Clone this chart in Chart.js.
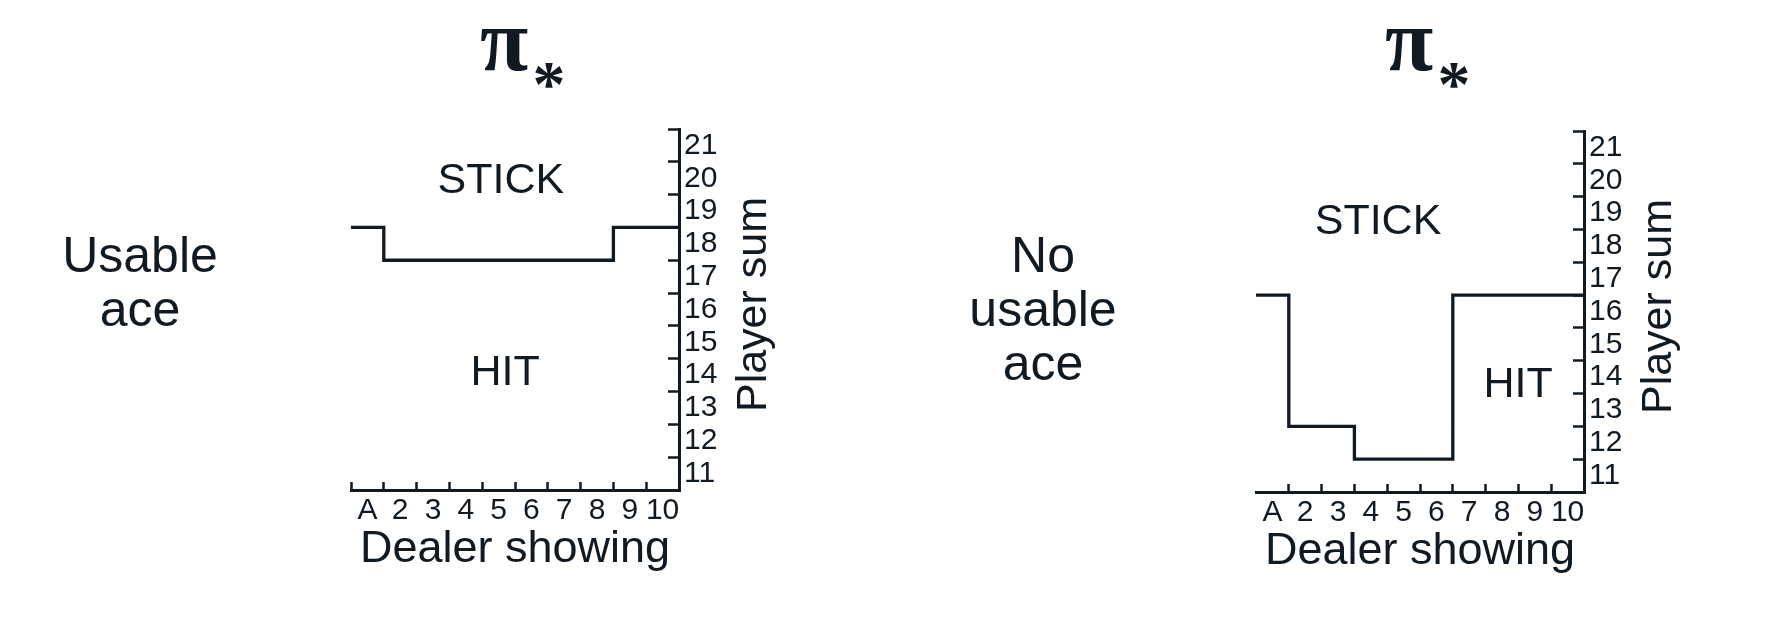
<!DOCTYPE html>
<html><head><meta charset="utf-8">
<script src="https://cdn.jsdelivr.net/npm/chart.js@4.4.1/dist/chart.umd.min.js"></script>
<style>
html,body{margin:0;padding:0;background:#fff;}
#wrap{position:relative;width:1774px;height:636px;overflow:hidden;background:#fff;}
canvas{position:absolute;top:0;}
.row{position:absolute;font-family:'Liberation Sans',Arial,sans-serif;font-size:50px;line-height:54px;color:#111a22;text-align:center;width:240px;}
</style></head><body>
<div id="wrap">
<div class="row" style="left:20px;top:228px">Usable<br>ace</div>
<div class="row" style="left:923px;top:228px">No<br>usable<br>ace</div>
<canvas id="c1" width="887" height="636" style="left:0"></canvas>
<canvas id="c2" width="887" height="636" style="left:887px"></canvas>
</div>
<script>
// ---- data ----
const dealerShowing = ['A','2','3','4','5','6','7','8','9','10'];
const playerSumLabels = ['11','12','13','14','15','16','17','18','19','20','21'];
// decision boundary (player sum between HIT below / STICK above) for each dealer card
const usableAceBoundary   = [18.5,17.5,17.5,17.5,17.5,17.5,17.5,17.5,18.5,18.5];
const noUsableAceBoundary = [16.5,12.5,12.5,11.5,11.5,11.5,16.5,16.5,16.5,16.5];
// tick marks sit on cell boundaries
const xTickValues = [0.5,1.5,2.5,3.5,4.5,5.5,6.5,7.5,8.5,9.5,10.5];
const yTickValues = [10.5,11.5,12.5,13.5,14.5,15.5,16.5,17.5,18.5,19.5,20.5,21.5];
const titleSymbol = 'π';
const titleSubscript = '*';
const xTitle = 'Dealer showing';
const yTitle = 'Player sum';
const usableRegions   = [{text:'STICK', x:5.07, y:19.9}, {text:'HIT', x:5.2, y:14.06}];
const noUsableRegions = [{text:'STICK', x:4.22, y:18.73}, {text:'HIT', x:8.49, y:13.76}];

const INK = '#111a22';
const SANS = "'Liberation Sans', Arial, sans-serif";
const SERIF = "'Liberation Serif', 'DejaVu Serif', serif";

function stepPoints(vals){
  const pts = vals.map((v,i)=>({x:xTickValues[i], y:v}));
  pts.push({x:xTickValues[vals.length], y:vals[vals.length-1]});
  return pts;
}

const regionLabels = {
  id:'regionLabels',
  afterDatasetsDraw(chart, args, opts){
    const {ctx, scales:{x,y}} = chart;
    ctx.save();
    ctx.fillStyle = INK;
    ctx.font = "43px " + SANS;
    ctx.textAlign = 'center';
    ctx.textBaseline = 'middle';
    (opts.items||[]).forEach(it=>{
      ctx.fillText(it.text, x.getPixelForValue(it.x), y.getPixelForValue(it.y));
    });
    ctx.restore();
  }
};
const sideTitle = {
  id:'sideTitle',
  afterDraw(chart, args, opts){
    const {ctx, chartArea:a} = chart;
    ctx.save();
    ctx.fillStyle = INK;
    ctx.font = "43px " + SANS;
    ctx.textAlign = 'center';
    ctx.textBaseline = 'alphabetic';
    ctx.translate(a.right + 87, (a.top + a.bottom)/2 - 5);
    ctx.rotate(-Math.PI/2);
    ctx.fillText(opts.text, 0, 0);
    ctx.restore();
  }
};
// subscript mark after the title symbol
const titleSub = {
  id:'titleSub',
  afterDraw(chart, args, opts){
    const {ctx, chartArea:a} = chart;
    ctx.save();
    ctx.fillStyle = INK;
    ctx.textAlign = 'left';
    ctx.textBaseline = 'alphabetic';
    ctx.font = "bold 100px " + SERIF;
    let m = ctx.measureText(opts.text);
    const size = 100 * opts.height / (m.actualBoundingBoxAscent + m.actualBoundingBoxDescent);
    ctx.font = "bold " + size.toFixed(1) + "px " + SERIF;
    m = ctx.measureText(opts.text);
    const w = m.actualBoundingBoxLeft + m.actualBoundingBoxRight;
    const cx = (a.left + a.right)/2 + opts.dx;
    const x = cx - w/2 + m.actualBoundingBoxLeft;
    const y = opts.cy + (m.actualBoundingBoxAscent - m.actualBoundingBoxDescent)/2;
    ctx.fillText(opts.text, x, y);
    ctx.restore();
  }
};

function makeChart(id, vals, regions, geo){
  const W = 887, H = 636, yAxisW = 100, xAxisH = 87;
  return new Chart(document.getElementById(id), {
    type:'line',
    data:{datasets:[{
      data: stepPoints(vals),
      stepped: true,
      borderColor: INK,
      borderWidth: 3.3,
      pointRadius: 0,
      fill: false,
      borderJoinStyle: 'miter',
      borderCapStyle: 'butt'
    }]},
    options:{
      responsive:false,
      animation:false,
      devicePixelRatio:1,
      layout:{padding:{left:geo.left, right:W-geo.right-yAxisW, top:0, bottom:H-geo.bottom-xAxisH}},
      plugins:{
        legend:{display:false},
        tooltip:{enabled:false},
        title:{
          display:true, text:titleSymbol + ' ', fullSize:false, color:INK,
          font:{family:SERIF, size:88, weight:'bold', lineHeight:0.8},
          padding:{top:12, bottom:geo.top-12-70.4}
        },
        titleSub:{text:titleSubscript, height:25, dx:34, cy:75},
        regionLabels:{items:regions},
        sideTitle:{text:yTitle}
      },
      scales:{
        x:{
          type:'linear', position:'bottom', min:0.5, max:10.5,
          afterBuildTicks: s => { s.ticks = xTickValues.map(v=>({value:v})); },
          afterFit: s => { s.height = xAxisH; },
          grid:{display:true, drawOnChartArea:false, drawTicks:true, tickLength:-8, tickWidth:2.5,
                tickColor: c => (geo.hideFirstX && c.index===0) ? 'rgba(0,0,0,0)' : INK},
          border:{display:true, color:INK, width:3},
          ticks:{autoSkip:false, maxRotation:0, color:INK, padding:11, labelOffset:16.4,
                 font:{family:SANS, size:30, lineHeight:1.2},
                 callback:(v,i)=> dealerShowing[i] ?? ''},
          title:{display:true, text:xTitle, color:INK, padding:0,
                 font:{family:SANS, size:45, lineHeight:1.2}}
        },
        y:{
          type:'linear', position:'right', min:10.5, max:21.5,
          afterBuildTicks: s => { s.ticks = yTickValues.map(v=>({value:v})); },
          afterFit: s => { s.width = yAxisW; },
          grid:{display:true, drawOnChartArea:false, drawTicks:true, tickLength:-11, tickWidth:2.5, tickColor:INK},
          border:{display:true, color:INK, width:3},
          ticks:{autoSkip:false, color:INK, padding:16, labelOffset:-16.4,
                 font:{family:SANS, size:30, lineHeight:1.2},
                 callback:(v,i)=> playerSumLabels[i] ?? ''},
          title:{display:false}
        }
      }
    },
    plugins:[regionLabels, sideTitle, titleSub]
  });
}

makeChart('c1', usableAceBoundary, usableRegions, {left:351, right:679, top:129, bottom:490, hideFirstX:false});
makeChart('c2', noUsableAceBoundary, noUsableRegions, {left:369, right:697, top:131, bottom:492, hideFirstX:true});
</script>
</body></html>
